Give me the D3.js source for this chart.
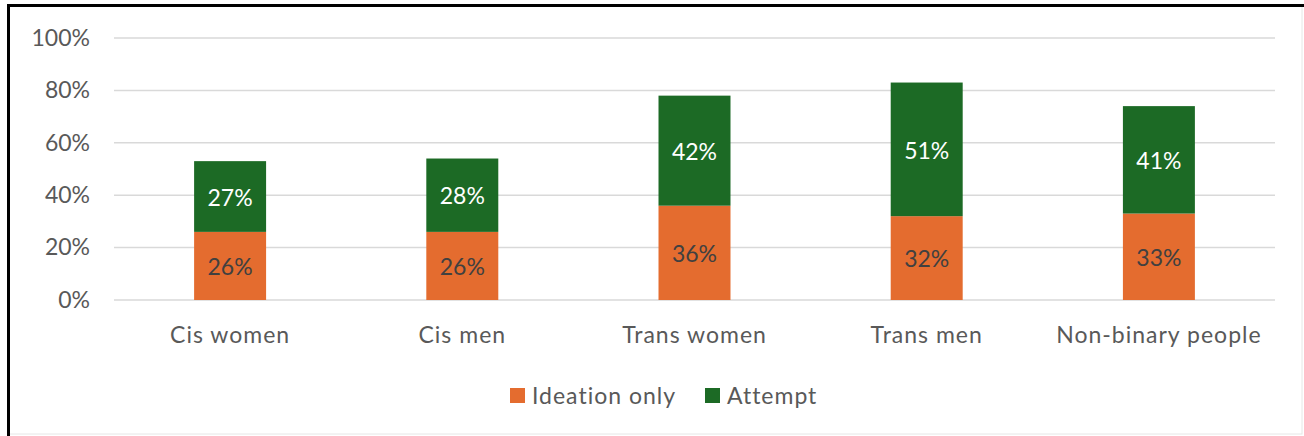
<!DOCTYPE html>
<html><head><meta charset="utf-8">
<script src="https://cdn.jsdelivr.net/npm/d3@7"></script>
<style>body{margin:0;background:#fff}svg{display:block}text{font-variant-ligatures:none;font-feature-settings:"liga" 0}</style>
</head><body><svg id="c" width="1304" height="436"></svg>
<script>
const categories = ["Cis women","Cis men","Trans women","Trans men","Non-binary people"];
const ideation = [26,26,36,32,33];
const attempt = [27,28,42,51,41];
const yTicks = [0,20,40,60,80,100];
const seriesNames = ["Ideation only","Attempt"];
const colors = ["#E46C2F","#1C6A25"];
const labelColors = ["#404040","#ffffff"];

const svg = d3.select("#c");
const font = "Lato, 'Open Sans', sans-serif";
// frame
svg.append("rect").attr("x",8).attr("y",5).attr("width",1294).attr("height",429)
  .attr("fill","#fff").attr("stroke","#e6e6e6").attr("stroke-width",1);
svg.append("line").attr("x1",7).attr("x2",1304).attr("y1",5.5).attr("y2",5.5).attr("stroke","#000").attr("stroke-width",3);
svg.append("line").attr("x1",8.5).attr("x2",8.5).attr("y1",4).attr("y2",436).attr("stroke","#000").attr("stroke-width",3);

const x = d3.scaleBand().domain(categories).range([114,1275]).paddingInner(0.69).paddingOuter(0.345);
const y = d3.scaleLinear().domain([0,100]).range([300,38]);

// gridlines
svg.append("g").selectAll("line").data(yTicks).join("line")
  .attr("x1",114).attr("x2",1275).attr("y1",d=>y(d)).attr("y2",d=>y(d))
  .attr("stroke","#d9d9d9").attr("stroke-width",1.5);

// y axis
const yAxis = svg.append("g").attr("transform","translate(104,0)")
  .call(d3.axisLeft(y).tickValues(yTicks).tickFormat(d=>d+"%").tickSize(0).tickPadding(14));
yAxis.select(".domain").remove();
yAxis.selectAll("text").attr("font-family",font).attr("font-size",23).attr("fill","#595959");

// x axis
const xAxis = svg.append("g").attr("transform","translate(0,300)")
  .call(d3.axisBottom(x).tickSize(0).tickPadding(27));
xAxis.select(".domain").remove();
xAxis.selectAll("text").attr("font-family",font).attr("font-size",23).attr("fill","#595959")
  .attr("letter-spacing","1px");

const data = categories.map((c,i)=>({cat:c, "Ideation only":ideation[i], "Attempt":attempt[i]}));
const stacked = d3.stack().keys(seriesNames)(data);

const g = svg.append("g");
stacked.forEach((s,si)=>{
  g.append("g").selectAll("rect").data(s).join("rect")
    .attr("x",d=>x(d.data.cat)).attr("width",x.bandwidth())
    .attr("y",d=>y(d[1])).attr("height",d=>y(d[0])-y(d[1]))
    .attr("fill",colors[si]);
  g.append("g").selectAll("text").data(s).join("text")
    .attr("x",d=>x(d.data.cat)+x.bandwidth()/2)
    .attr("y",d=>(y(d[0])+y(d[1]))/2 + 1)
    .attr("dy","0.36em").attr("text-anchor","middle")
    .attr("font-family",font).attr("font-size",23).attr("fill",labelColors[si])
    .text(d=>(d[1]-d[0])+"%");
});

// legend
const leg = svg.append("g");
const legItems = [{x:510},{x:705}];
seriesNames.forEach((n,i)=>{
  leg.append("rect").attr("x",legItems[i].x).attr("y",388).attr("width",15).attr("height",15).attr("fill",colors[i]);
  leg.append("text").attr("x",legItems[i].x+22).attr("y",395.5).attr("dy","0.36em")
    .attr("font-family",font).attr("font-size",23).attr("fill","#595959").attr("letter-spacing","1px").text(n);
});
</script></body></html>
